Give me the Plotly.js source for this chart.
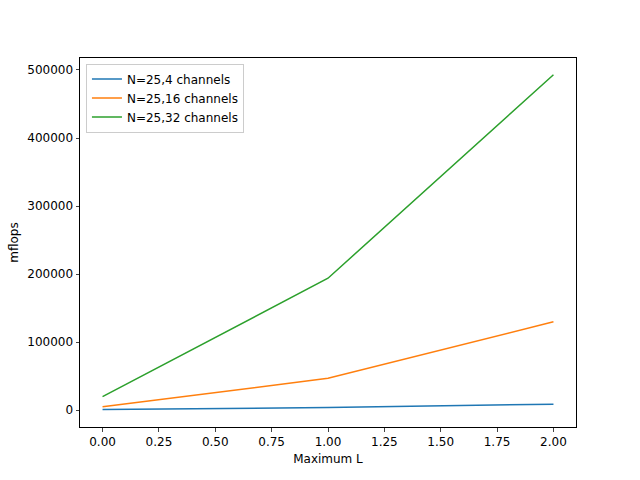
<!DOCTYPE html>
<html>
<head>
<meta charset="utf-8">
<script src="https://cdn.plot.ly/plotly-3.0.1.min.js"></script>
<style>body{margin:0}</style>
</head>
<body>
<div id="chart" style="width:640px;height:480px"></div>
<script>
var maxL = [0, 1, 2];
var ch4 = [1000, 4000, 9000];
var ch16 = [5000, 47000, 130000];
var ch32 = [20000, 194000, 493000];

var names = ['N=25,4 channels', 'N=25,16 channels', 'N=25,32 channels'];
var colors = ['#1f77b4', '#ff7f0e', '#2ca02c'];
var series = [ch4, ch16, ch32];

var data = series.map(function (y, i) {
    return {
        x: maxL, y: y, name: names[i], type: 'scatter', mode: 'lines',
        line: {color: colors[i], width: 1.5}
    };
});

var layout = {
    width: 640, height: 480,
    margin: {l: 80, r: 64, t: 58, b: 53},
    paper_bgcolor: 'white', plot_bgcolor: 'white',
    font: {family: 'DejaVu Sans', size: 12, color: '#000'},
    showlegend: true,
    legend: {x: 0.012, y: 0.985, xanchor: 'left', yanchor: 'top',
             bordercolor: '#ccc', borderwidth: 1, bgcolor: 'rgba(255,255,255,0.8)',
             font: {size: 12}, tracegroupgap: 0},
    xaxis: {
        title: {text: 'Maximum L', font: {size: 12}, standoff: 6},
        range: [-0.1, 2.1], tickvals: [0, 0.25, 0.5, 0.75, 1, 1.25, 1.5, 1.75, 2],
        ticktext: ['0.00', '0.25', '0.50', '0.75', '1.00', '1.25', '1.50', '1.75', '2.00'],
        showgrid: false, zeroline: false, showline: true, mirror: true, automargin: false,
        linecolor: '#000', linewidth: 1, ticks: 'outside', ticklen: 3.5
    },
    yaxis: {
        title: {text: 'mflops', font: {size: 12}, standoff: 6},
        range: [-24600, 517600], tickvals: [0, 100000, 200000, 300000, 400000, 500000],
        ticktext: ['0', '100000', '200000', '300000', '400000', '500000'],
        showgrid: false, zeroline: false, showline: true, mirror: true, automargin: false,
        linecolor: '#000', linewidth: 1, ticks: 'outside', ticklen: 3.5
    }
};

Plotly.newPlot('chart', data, layout, {displayModeBar: false});
</script>
</body>
</html>
